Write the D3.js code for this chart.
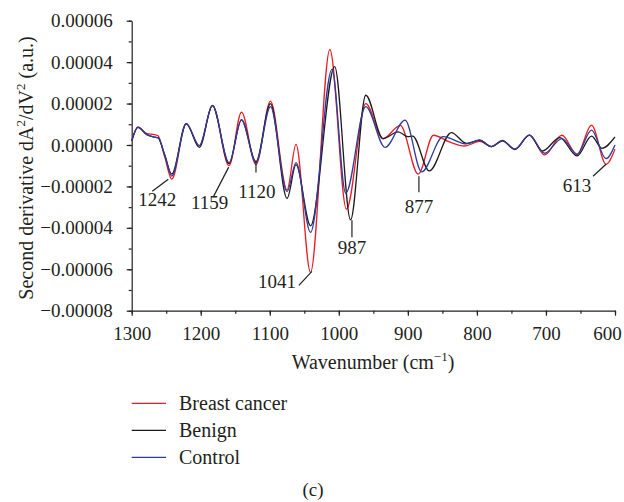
<!DOCTYPE html>
<html>
<head>
<meta charset="utf-8">
<script src="https://cdn.jsdelivr.net/npm/d3@7"></script>
<style>
  body { margin: 0; background: #fff; }
  svg text { font-family: "Liberation Serif", "Times New Roman", serif; fill: #231f20; }
</style>
</head>
<body>
<svg width="624" height="502"></svg>
<script>
// values in units of 1e-5 (a.u.), wavenumbers in cm-1
var cancer = [
  [1300, 0.2], [1291, 0.87], [1278, 0.55], [1267, 0.5], [1262, 0.45], [1252, -0.6], [1242, -1.65],
  [1221, 1.03], [1202, -0.03], [1183, 1.91], [1159, -1.0], [1141, 1.59], [1120, -0.95],
  [1099, 2.12], [1075, -2.17], [1062, 0.03], [1041, -6.15], [1013, 4.61], [989, -3.1],
  [961, 2.0], [936, 0.3], [911, 0.95], [885, -1.41], [863, 0.47], [840, 0.15], [818, -0.05],
  [796, 0.17], [779, -0.08], [763, 0.22], [745, -0.22], [724, 0.48], [702, -0.48],
  [677, 0.47], [655, -0.45], [634, 0.96], [613, -0.93], [600, -0.2]
];
var benign = [
  [1300, 0.2], [1291, 0.85], [1278, 0.5], [1267, 0.38], [1262, 0.35], [1252, -0.5], [1242, -1.41],
  [1221, 1.03], [1202, -0.12], [1183, 1.9], [1159, -0.9], [1141, 1.22], [1120, -0.8],
  [1099, 2.0], [1075, -2.58], [1062, -0.95], [1041, -3.9], [1006, 3.78], [983, -3.61],
  [961, 2.4], [936, 0.31], [914, 0.63], [900, 0.4], [893, 0.43], [869, -1.25], [837, 0.6],
  [815, 0.08], [796, 0.22], [779, -0.08], [763, 0.2], [745, -0.2], [724, 0.48], [705, -0.29],
  [680, 0.36], [655, -0.53], [634, 0.43], [619, -0.16], [600, 0.39]
];
var control = [
  [1300, 0.2], [1291, 0.85], [1278, 0.5], [1267, 0.38], [1262, 0.35], [1252, -0.5], [1242, -1.5],
  [1221, 1.03], [1202, -0.03], [1183, 1.9], [1159, -0.86], [1141, 1.2], [1120, -0.85],
  [1099, 1.85], [1075, -2.25], [1062, -0.85], [1041, -4.22], [1010, 3.65], [990, -2.33],
  [961, 1.85], [933, -0.12], [904, 1.2], [880, -1.3], [849, 0.4], [815, 0.05], [796, 0.25],
  [779, -0.08], [763, 0.2], [745, -0.2], [724, 0.48], [702, -0.4], [677, 0.31], [655, -0.45],
  [634, 0.72], [613, -0.66], [600, 0.0]
];

var seriesNames = ["Breast cancer", "Benign", "Control"];
var seriesColors = ["#ec1c24", "#1a1a1a", "#2e3d9c"];

var xTicks = [1300, 1200, 1100, 1000, 900, 800, 700, 600];
var yTicks = [0.00006, 0.00004, 0.00002, 0, -0.00002, -0.00004, -0.00006, -0.00008];

// peak labels: text, wavenumber and value at the line tip
var peakLabels = ["1242", "1159", "1120", "1041", "987", "877", "613"];
var peakTipWn = [1247, 1159.5, 1120, 1039, 981, 884, 613];
var peakTipVal = [-1.65, -1.07, -0.8, -6.1, -3.63, -1.51, -0.93];
// offsets: [line dx, line dy, label dx, label dy, anchor]
var peakOffsets = [
  [-16, 12, -11, 27, "middle"], [-15, 29, -19, 42, "middle"], [0, 11, 1, 36, "middle"],
  [-13, 14, -16, 17, "end"], [0, 17, 0, 34, "middle"], [0, 16, 0, 37, "middle"],
  [-13, 12, -29, 28, "middle"]
];

var svg = d3.select("svg");

var x = d3.scaleLinear().domain([1300, 600]).range([131.7, 615]);
var y = d3.scaleLinear().domain([-0.00008, 0.00006]).range([310.7, 20.7]);

var fmt = d3.format(".5f");

// minor ticks
svg.append("g")
    .attr("transform", "translate(131.7,0)")
    .call(d3.axisLeft(y).tickValues(d3.range(-8, 7, 1).map(function(d) { return d * 1e-5; }))
      .tickSize(3).tickFormat(""))
    .call(function(g) { g.select(".domain").remove(); });
svg.append("g")
    .attr("transform", "translate(0,310.7)")
    .call(d3.axisBottom(x).tickValues(d3.range(600, 1301, 50)).tickSize(3).tickFormat(""))
    .call(function(g) { g.select(".domain").remove(); });

var yAxis = svg.append("g")
    .attr("transform", "translate(131.7,0)")
    .call(d3.axisLeft(y).tickValues(yTicks).tickSize(5).tickSizeOuter(0)
      .tickPadding(14).tickFormat(fmt));
var xAxis = svg.append("g")
    .attr("transform", "translate(0,310.7)")
    .call(d3.axisBottom(x).tickValues(xTicks).tickSize(5).tickSizeOuter(0)
      .tickPadding(11).tickFormat(d3.format("d")));

svg.selectAll(".tick line, .domain").attr("stroke", "#231f20").attr("stroke-width", 1.2);
svg.selectAll(".tick text").attr("font-size", 19)
    .attr("font-family", "Liberation Serif, serif").attr("fill", "#231f20");
// last x label sits against the right edge
xAxis.selectAll(".tick text").filter(function(d) { return d === 600; }).attr("dx", -8);

// curves
var line = d3.line()
    .x(function(d) { return x(d[0]); })
    .y(function(d) { return y(d[1] * 1e-5); })
    .curve(d3.curveMonotoneX);

[cancer, benign, control].forEach(function(s, i) {
  svg.append("path")
      .datum(s)
      .attr("fill", "none")
      .attr("stroke", seriesColors[i])
      .attr("stroke-width", 1.3)
      .attr("d", line);
});

// peak annotations
peakLabels.forEach(function(lab, i) {
  var tx = x(peakTipWn[i]), ty = y(peakTipVal[i] * 1e-5);
  var o = peakOffsets[i];
  svg.append("line")
      .attr("x1", tx).attr("y1", ty)
      .attr("x2", tx + o[0]).attr("y2", ty + o[1])
      .attr("stroke", "#231f20").attr("stroke-width", 1.2);
  svg.append("text")
      .attr("x", tx + o[2]).attr("y", ty + o[3])
      .attr("text-anchor", o[4])
      .attr("font-size", 19)
      .text(lab);
});

// axis titles
var xt = svg.append("text")
    .attr("x", 373).attr("y", 369)
    .attr("text-anchor", "middle")
    .attr("font-size", 20);
xt.append("tspan").text("Wavenumber (cm");
xt.append("tspan").attr("dy", -8).attr("font-size", 13).text("\u22121");
xt.append("tspan").attr("dy", 8).text(")");

var yt = svg.append("text")
    .attr("transform", "translate(33,168) rotate(-90)")
    .attr("text-anchor", "middle")
    .attr("font-size", 20);
yt.append("tspan").text("Second derivative dA");
yt.append("tspan").attr("dy", -8).attr("font-size", 13).text("2");
yt.append("tspan").attr("dy", 8).text("/dV");
yt.append("tspan").attr("dy", -8).attr("font-size", 13).text("2");
yt.append("tspan").attr("dy", 8).text(" (a.u.)");

// legend
seriesNames.forEach(function(name, i) {
  var ly = 403.3 + i * 27;
  svg.append("line")
      .attr("x1", 131.7).attr("x2", 166)
      .attr("y1", ly).attr("y2", ly)
      .attr("stroke", seriesColors[i]).attr("stroke-width", 1.3);
  svg.append("text")
      .attr("x", 179).attr("y", ly + 6.5)
      .attr("font-size", 20)
      .text(name);
});

svg.append("text")
    .attr("x", 313).attr("y", 496)
    .attr("text-anchor", "middle")
    .attr("font-size", 19)
    .text("(c)");
</script>
</body>
</html>
